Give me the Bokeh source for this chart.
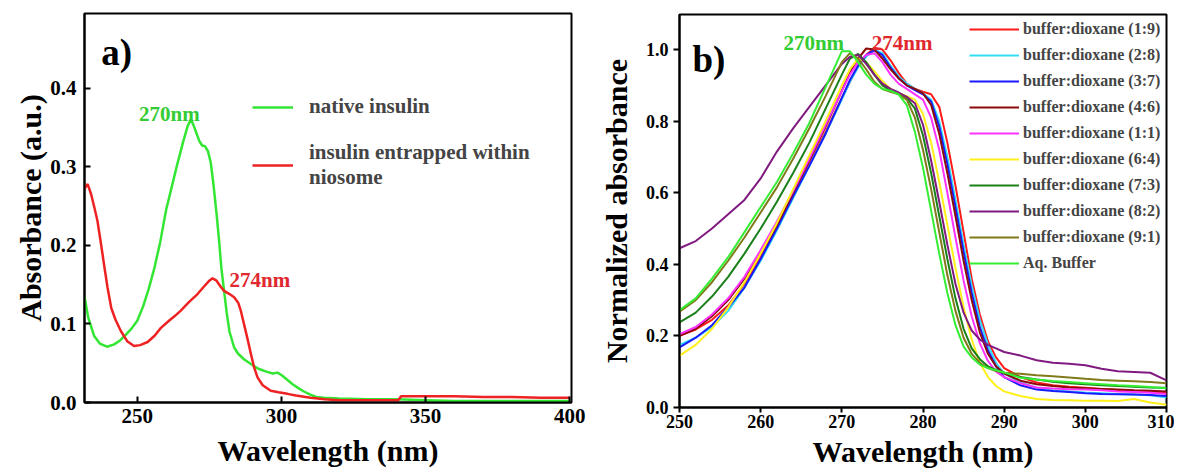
from bokeh.plotting import figure
from bokeh.layouts import row, column
from bokeh.models import Range1d, Legend, LegendItem, FixedTicker, Label, NumeralTickFormatter
from bokeh.embed import file_html
from bokeh.resources import INLINE

FONT = "Liberation Serif"

# ---------------- panel a) data ----------------
wl_native = [231.7, 233, 235, 237, 239.5, 242, 244, 246, 248, 250, 252, 254, 256, 258, 260, 262, 264,
             266, 267.5, 268.6, 269.5, 270.5, 271.5, 272.5, 273.5, 274.5, 275.5, 276.5, 277.5, 278.4,
             279.2, 280.1, 281, 282, 283.6, 285, 287, 289.4, 292, 295, 297, 298.6, 300, 302, 304, 306,
             307.8, 310, 312, 314.7, 320, 330, 340, 350, 360, 380, 400]
abs_native = [0.135, 0.108, 0.085, 0.075, 0.071, 0.074, 0.079, 0.086, 0.094, 0.104, 0.122, 0.145, 0.172,
              0.205, 0.245, 0.275, 0.305, 0.333, 0.352, 0.360, 0.353, 0.343, 0.333, 0.327, 0.326, 0.320,
              0.305, 0.275, 0.240, 0.205, 0.170, 0.142, 0.115, 0.090, 0.070, 0.062, 0.055, 0.049, 0.043,
              0.039, 0.037, 0.038, 0.035, 0.029, 0.023, 0.018, 0.014, 0.010, 0.007, 0.006, 0.005, 0.004,
              0.004, 0.003, 0.002, 0.002, 0.002]

wl_nio = [231.7, 232.8, 234, 235, 236.2, 237.5, 238.7, 239.7, 241, 242.5, 244.3, 246.5, 248.9, 251, 253.6,
          256, 258.2, 261, 263, 265.1, 268, 270.9, 273, 275, 276.1, 277.5, 279, 280.1, 282, 283.6, 285,
          285.9, 287, 288.3, 289.4, 290.5, 291.7, 293.5, 296.3, 299, 302.1, 305, 310.1, 315, 320, 330,
          340.5, 341.5, 350, 360, 370, 380, 390, 400]
abs_nio = [0.272, 0.278, 0.265, 0.250, 0.231, 0.200, 0.170, 0.146, 0.120, 0.105, 0.091, 0.078, 0.072,
           0.073, 0.077, 0.085, 0.095, 0.104, 0.110, 0.117, 0.128, 0.138, 0.147, 0.155, 0.158, 0.155,
           0.147, 0.142, 0.138, 0.134, 0.127, 0.117, 0.100, 0.080, 0.062, 0.045, 0.032, 0.022, 0.015,
           0.013, 0.011, 0.009, 0.006, 0.004, 0.003, 0.003, 0.003, 0.008, 0.008, 0.008, 0.007, 0.007,
           0.006, 0.006]

# ---------------- panel b) data ----------------
wl_b = [250, 252, 254, 256, 258, 260, 262, 264, 266, 268,
        270, 271, 272, 273, 274, 275, 276, 277, 278, 279, 280, 281, 282, 283, 284, 285, 286, 287, 288, 289, 290,
        292, 294, 296, 298, 300, 302, 304, 306, 308, 310]

bd_1_9 = [0.200, 0.218, 0.245, 0.285, 0.345, 0.420, 0.505, 0.590, 0.680, 0.770,
          0.865, 0.910, 0.955, 0.985, 1.005, 1.000, 0.970, 0.935, 0.905, 0.890, 0.882, 0.875, 0.840, 0.740,
          0.620, 0.490, 0.360, 0.260, 0.185, 0.140, 0.110,
          0.085, 0.070, 0.062, 0.058, 0.055, 0.052, 0.049, 0.047, 0.046, 0.040]
bd_2_8 = [0.175, 0.195, 0.225, 0.270, 0.335, 0.410, 0.495, 0.585, 0.675, 0.765,
          0.860, 0.910, 0.950, 0.980, 1.000, 0.990, 0.955, 0.925, 0.905, 0.890, 0.878, 0.860, 0.800, 0.700,
          0.580, 0.455, 0.340, 0.245, 0.175, 0.125, 0.095,
          0.070, 0.055, 0.048, 0.045, 0.042, 0.040, 0.038, 0.036, 0.034, 0.028]
bd_3_7 = [0.168, 0.195, 0.230, 0.280, 0.335, 0.415, 0.500, 0.590, 0.675, 0.765,
          0.865, 0.915, 0.955, 0.985, 0.998, 0.985, 0.950, 0.920, 0.900, 0.887, 0.875, 0.855, 0.785, 0.680,
          0.560, 0.435, 0.320, 0.225, 0.160, 0.115, 0.085,
          0.062, 0.050, 0.046, 0.043, 0.040, 0.038, 0.037, 0.036, 0.035, 0.032]
bd_4_6 = [0.200, 0.220, 0.255, 0.300, 0.360, 0.430, 0.510, 0.600, 0.690, 0.785,
          0.885, 0.935, 0.975, 1.003, 1.000, 0.975, 0.945, 0.920, 0.900, 0.890, 0.878, 0.845, 0.765, 0.655,
          0.535, 0.410, 0.300, 0.210, 0.150, 0.115, 0.095,
          0.075, 0.065, 0.060, 0.056, 0.054, 0.052, 0.050, 0.048, 0.047, 0.045]
bd_1_1 = [0.205, 0.225, 0.260, 0.305, 0.365, 0.440, 0.520, 0.605, 0.695, 0.790,
          0.885, 0.930, 0.965, 0.985, 0.990, 0.965, 0.930, 0.905, 0.890, 0.875, 0.860, 0.810, 0.720, 0.600,
          0.475, 0.355, 0.255, 0.180, 0.130, 0.100, 0.085,
          0.068, 0.056, 0.053, 0.051, 0.050, 0.048, 0.045, 0.043, 0.041, 0.038]
bd_6_4 = [0.145, 0.175, 0.220, 0.280, 0.350, 0.430, 0.515, 0.610, 0.705, 0.800,
          0.900, 0.945, 0.975, 0.965, 0.940, 0.912, 0.890, 0.878, 0.870, 0.860, 0.820, 0.740, 0.630, 0.510,
          0.390, 0.280, 0.190, 0.125, 0.085, 0.060, 0.045,
          0.032, 0.024, 0.021, 0.020, 0.019, 0.019, 0.018, 0.024, 0.014, 0.008]
bd_7_3 = [0.238, 0.265, 0.310, 0.365, 0.430, 0.500, 0.575, 0.655, 0.740, 0.835,
          0.930, 0.975, 0.988, 0.965, 0.930, 0.900, 0.885, 0.878, 0.865, 0.835, 0.760, 0.655, 0.535, 0.415,
          0.305, 0.220, 0.165, 0.135, 0.115, 0.105, 0.097,
          0.085, 0.078, 0.072, 0.068, 0.065, 0.062, 0.060, 0.058, 0.056, 0.055]
bd_8_2 = [0.445, 0.465, 0.500, 0.540, 0.580, 0.640, 0.715, 0.780, 0.840, 0.900,
          0.960, 0.980, 0.985, 0.960, 0.930, 0.905, 0.890, 0.880, 0.868, 0.850, 0.790, 0.690, 0.575, 0.455,
          0.345, 0.265, 0.215, 0.190, 0.175, 0.165, 0.155,
          0.145, 0.132, 0.125, 0.122, 0.118, 0.108, 0.101, 0.099, 0.097, 0.076]
bd_9_1 = [0.268, 0.300, 0.350, 0.410, 0.475, 0.545, 0.615, 0.695, 0.780, 0.870,
          0.965, 0.990, 0.975, 0.945, 0.910, 0.890, 0.882, 0.875, 0.860, 0.810, 0.720, 0.610, 0.490, 0.370,
          0.270, 0.195, 0.150, 0.125, 0.110, 0.102, 0.097,
          0.094, 0.090, 0.087, 0.084, 0.080, 0.077, 0.075, 0.073, 0.071, 0.068]
aq_buffer = [0.272, 0.305, 0.360, 0.420, 0.490, 0.560, 0.630, 0.710, 0.795, 0.895,
             0.995, 0.995, 0.965, 0.930, 0.905, 0.890, 0.885, 0.875, 0.845, 0.770, 0.670, 0.550, 0.430, 0.320,
             0.230, 0.170, 0.140, 0.120, 0.110, 0.104, 0.098,
             0.083, 0.078, 0.074, 0.071, 0.068, 0.065, 0.062, 0.060, 0.057, 0.054]

b_series = [bd_1_9, bd_2_8, bd_3_7, bd_4_6, bd_1_1, bd_6_4, bd_7_3, bd_8_2, bd_9_1, aq_buffer]
b_labels = ["buffer:dioxane (1:9)", "buffer:dioxane (2:8)", "buffer:dioxane (3:7)",
            "buffer:dioxane (4:6)", "buffer:dioxane (1:1)", "buffer:dioxane (6:4)",
            "buffer:dioxane (7:3)", "buffer:dioxane (8:2)", "buffer:dioxane (9:1)", "Aq. Buffer"]
b_colors = ["#FF1A1A", "#33DDF5", "#1A1AFF", "#8B0A0A", "#FF33FF", "#FFF01A",
            "#1A801A", "#801A80", "#807A1A", "#33EE33"]

a_ticks_x = [250, 300, 350, 400]
a_ticks_y = [0.0, 0.1, 0.2, 0.3, 0.4]
b_ticks_x = [250, 260, 270, 280, 290, 300, 310]
b_ticks_y = [0.0, 0.2, 0.4, 0.6, 0.8, 1.0]


def style(p, tick_px, label_px, tin, tout, lstand, xstand, ystand):
    p.xgrid.visible = False
    p.ygrid.visible = False
    p.outline_line_color = "black"
    p.outline_line_width = 2
    p.background_fill_color = "white"
    p.border_fill_color = "white"
    for ax in (p.xaxis[0], p.yaxis[0]):
        ax.axis_line_width = 2
        ax.axis_line_color = "black"
        ax.major_tick_line_width = 2
        ax.major_tick_line_color = "black"
        ax.major_tick_in = tin
        ax.major_tick_out = tout
        ax.minor_tick_line_color = None
        ax.major_label_text_font = FONT
        ax.major_label_text_font_style = "bold"
        ax.major_label_text_font_size = tick_px
        ax.major_label_text_color = "black"
        ax.axis_label_text_font = FONT
        ax.axis_label_text_font_style = "bold"
        ax.axis_label_text_font_size = label_px
        ax.axis_label_text_color = "black"
        ax.axis_label_standoff = lstand
    p.xaxis[0].major_label_standoff = xstand
    p.yaxis[0].major_label_standoff = ystand


# ---------------- figure a ----------------
p1 = figure(width=590, height=473, x_range=Range1d(231.7, 400.6), y_range=Range1d(0, 0.495),
            output_backend="svg", toolbar_location=None,
            min_border_left=84, min_border_right=19, min_border_top=13, min_border_bottom=71,
            x_axis_label="Wavelength (nm)", y_axis_label="Absorbance (a.u.)")
style(p1, "21px", "30px", 6, 0, 0, 6, 8)
p1.xaxis[0].axis_label_standoff = 8
p1.xaxis[0].ticker = FixedTicker(ticks=a_ticks_x)
p1.yaxis[0].ticker = FixedTicker(ticks=a_ticks_y)
p1.yaxis[0].formatter = NumeralTickFormatter(format="0.0")

r_nat = p1.line(wl_native, abs_native, line_color="#33E633", line_width=2.5)
r_nio = p1.line(wl_nio, abs_nio, line_color="#EE2222", line_width=2.5)

leg1 = Legend(items=[LegendItem(label="native insulin", renderers=[r_nat]),
                     LegendItem(label="insulin entrapped within\nniosome", renderers=[r_nio])],
              location=(168, 212), border_line_color=None, background_fill_alpha=0,
              padding=0, margin=0, spacing=21, glyph_width=41, glyph_height=20, label_height=20,
              label_standoff=16, label_text_font=FONT, label_text_font_style="bold",
              label_text_font_size="21px", label_text_line_height=1.45)
p1.add_layout(leg1)

p1.add_layout(Label(x=237.5, y=0.445, text="a)", text_font=FONT, text_font_style="bold",
                    text_font_size="37px", text_baseline="alphabetic", text_color="black"))
p1.add_layout(Label(x=250.6, y=0.367, text="270nm", text_font=FONT, text_font_style="bold",
                    text_font_size="21px", text_baseline="alphabetic", text_color="#33CC33"))
p1.add_layout(Label(x=282.0, y=0.156, text="274nm", text_font=FONT, text_font_style="bold",
                    text_font_size="21px", text_baseline="alphabetic", text_color="#E0282F"))

# ---------------- figure b ----------------
p2 = figure(width=584, height=473, x_range=Range1d(250, 310), y_range=Range1d(0, 1.098),
            output_backend="svg", toolbar_location=None,
            min_border_left=89, min_border_right=8, min_border_top=14, min_border_bottom=66,
            x_axis_label="Wavelength (nm)", y_axis_label="Normalized absorbance")
style(p2, "18px", "30px", 0, 5, 0, 2, 5)
p2.xaxis[0].axis_label_standoff = 4
p2.yaxis[0].major_tick_out = 6
p2.yaxis[0].axis_label_standoff = 10
p2.xaxis[0].ticker = FixedTicker(ticks=b_ticks_x)
p2.yaxis[0].ticker = FixedTicker(ticks=b_ticks_y)
p2.yaxis[0].formatter = NumeralTickFormatter(format="0.0")

items = []
for ys, lab, col in zip(b_series, b_labels, b_colors):
    r = p2.line(wl_b, ys, line_color=col, line_width=2)
    items.append(LegendItem(label=lab, renderers=[r]))

leg2 = Legend(items=items, location=(290, 134), border_line_color=None, background_fill_alpha=0,
              padding=0, margin=0, spacing=6, glyph_width=50, glyph_height=20, label_height=20,
              label_standoff=4, label_text_font=FONT, label_text_font_style="bold",
              label_text_font_size="16px")
p2.add_layout(leg2)

p2.add_layout(Label(x=251.6, y=0.971, text="b)", text_font=FONT, text_font_style="bold",
                    text_font_size="37px", text_baseline="alphabetic", text_color="black"))
p2.add_layout(Label(x=262.8, y=1.018, text="270nm", text_font=FONT, text_font_style="bold",
                    text_font_size="21px", text_baseline="alphabetic", text_color="#33CC33"))
p2.add_layout(Label(x=273.7, y=1.018, text="274nm", text_font=FONT, text_font_style="bold",
                    text_font_size="21px", text_baseline="alphabetic", text_color="#E0282F"))

layout = row(column(p1), column(p2))
open("out.html", "w").write(file_html(layout, INLINE))
